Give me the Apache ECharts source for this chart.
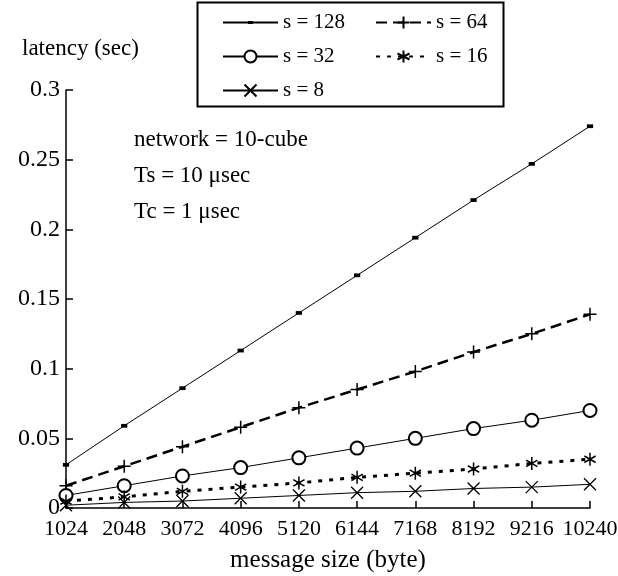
<!DOCTYPE html>
<html>
<head>
<meta charset="utf-8">
<script src="https://cdn.jsdelivr.net/npm/echarts@6/dist/echarts.min.js"></script>
<style>html,body{margin:0;padding:0;background:#fff}#c{width:618px;height:576px}</style>
</head>
<body>
<div id="c"></div>
<script>
var messageSizes = [1024, 2048, 3072, 4096, 5120, 6144, 7168, 8192, 9216, 10240];
var s128 = [0.031, 0.059, 0.086, 0.113, 0.140, 0.167, 0.194, 0.221, 0.247, 0.274];
var s64  = [0.016, 0.030, 0.044, 0.058, 0.072, 0.085, 0.098, 0.112, 0.125, 0.139];
var s32  = [0.009, 0.016, 0.023, 0.029, 0.036, 0.043, 0.050, 0.057, 0.063, 0.070];
var s16  = [0.005, 0.008, 0.012, 0.015, 0.018, 0.022, 0.025, 0.028, 0.032, 0.035];
var s8   = [0.002, 0.004, 0.005, 0.007, 0.009, 0.011, 0.012, 0.014, 0.015, 0.017];
var yTicks = [0, 0.05, 0.1, 0.15, 0.2, 0.25, 0.3];
var seriesNames = ['s = 128', 's = 64', 's = 32', 's = 16', 's = 8'];
var notes = ['network = 10-cube', 'Ts = 10 \u03bcsec', 'Tc = 1 \u03bcsec'];

var FONT = '"Liberation Serif", "DejaVu Serif", serif';
function pairs(vals) { return messageSizes.map(function (x, i) { return [x, vals[i]]; }); }

var chart = echarts.init(document.getElementById('c'), null, {renderer: 'canvas'});
var common = {type: 'line', symbolKeepAspect: true, animation: false, z: 3};
var legendCommon = {orient: 'vertical', top: 7, padding: 5, itemWidth: 55, itemHeight: 15, itemGap: 13,
  textStyle: {fontFamily: FONT, fontSize: 21, color: '#000'}};
chart.setOption({
  backgroundColor: '#fff',
  animation: false,
  grid: {left: 66, right: 28, top: 90, bottom: 68, containLabel: false, outerBoundsMode: 'none'},
  xAxis: {
    type: 'value', min: 1024, max: 10240, interval: 1024,
    name: 'message size (byte)', nameLocation: 'middle', nameGap: 40,
    nameTextStyle: {fontFamily: FONT, fontSize: 25, color: '#000'},
    axisLine: {show: true, lineStyle: {color: '#000', width: 1.5}},
    axisTick: {show: true, inside: true, length: 7, lineStyle: {color: '#000', width: 1.5}},
    axisLabel: {fontFamily: FONT, fontSize: 22, color: '#000', margin: 10,
      formatter: function (v) { return messageSizes.indexOf(v) >= 0 ? String(v) : ''; }},
    splitLine: {show: false}
  },
  yAxis: {
    type: 'value', min: 0, max: 0.3, interval: 0.05,
    name: 'latency (sec)', nameLocation: 'end', nameGap: 30,
    nameTextStyle: {fontFamily: FONT, fontSize: 23, color: '#000', align: 'left', padding: [0, 0, 0, -44]},
    axisLine: {show: true, lineStyle: {color: '#000', width: 1.5}},
    axisTick: {show: true, inside: true, length: 7, lineStyle: {color: '#000', width: 1.5}},
    axisLabel: {fontFamily: FONT, fontSize: 24, color: '#000', margin: 6,
      formatter: function (v) { var t = yTicks.filter(function (y) { return Math.abs(y - v) < 1e-9; }); return t.length ? String(t[0]) : ''; }},
    splitLine: {show: false}
  },
  legend: [
    Object.assign({}, legendCommon, {data: [seriesNames[0], seriesNames[2], seriesNames[4]], left: 217}),
    Object.assign({}, legendCommon, {data: [seriesNames[1], seriesNames[3]], left: 370})
  ],
  graphic: [
    {type: 'rect', left: 195, top: 0, shape: {width: 306, height: 104}, style: {fill: 'none', stroke: '#000', lineWidth: 2}, z: 100},
    {type: 'text', left: 134, top: 128, style: {text: notes[0], font: '23px ' + FONT, fill: '#000'}},
    {type: 'text', left: 134, top: 164, style: {text: notes[1], font: '23px ' + FONT, fill: '#000'}},
    {type: 'text', left: 134, top: 200, style: {text: notes[2], font: '23px ' + FONT, fill: '#000'}}
  ],
  series: [
    Object.assign({}, common, {name: seriesNames[0], data: pairs(s128), symbol: 'path://M0,0M12,12M3.5,4.5L8.5,4.5L8.5,7.5L3.5,7.5Z', symbolSize: 15,
      lineStyle: {color: '#000', width: 1}, itemStyle: {color: '#000'}}),
    Object.assign({}, common, {name: seriesNames[1], data: pairs(s64), symbol: 'path://M0,6L12,6M6,0L6,12', symbolSize: 13,
      lineStyle: {color: '#000', width: 2.5, type: [11, 6]}, itemStyle: {color: '#000', borderColor: '#000', borderWidth: 1.5}}),
    Object.assign({}, common, {name: seriesNames[2], data: pairs(s32), symbol: 'emptyCircle', symbolSize: 13,
      lineStyle: {color: '#000', width: 1}, itemStyle: {color: '#000', borderColor: '#000', borderWidth: 1.2}}),
    Object.assign({}, common, {name: seriesNames[3], data: pairs(s16), symbol: 'path://M6,0L6,12M0.8,3L11.2,9M0.8,9L11.2,3', symbolSize: 13,
      lineStyle: {color: '#000', width: 3, type: [4, 7]}, itemStyle: {color: '#000', borderColor: '#000', borderWidth: 1.5}}),
    Object.assign({}, common, {name: seriesNames[4], data: pairs(s8), symbol: 'path://M0,0L12,12M0,12L12,0', symbolSize: 12,
      lineStyle: {color: '#000', width: 1}, itemStyle: {color: '#000', borderColor: '#000', borderWidth: 1.3}})
  ]
});
</script>
</body>
</html>
